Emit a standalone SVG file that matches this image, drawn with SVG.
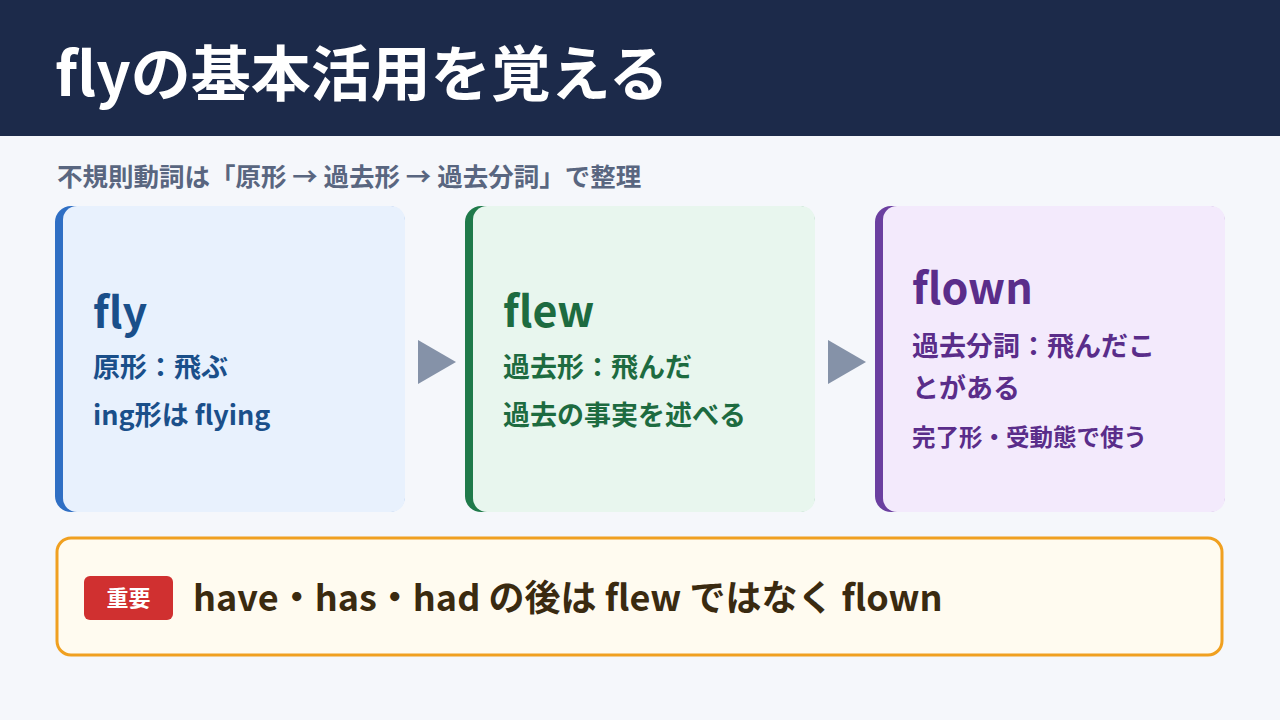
<svg xmlns="http://www.w3.org/2000/svg" width="1280" height="720" viewBox="0 0 1280 720">
<style>
text{font-family:"Noto Sans CJK JP","Noto Sans",sans-serif;font-weight:700}
.h{font-size:43px}.b{font-size:27px}
</style>
<rect width="1280" height="720" fill="#f5f7fb"/>
<rect width="1280" height="136" fill="#1c2a4a"/>
<text x="55" y="96" font-size="60" fill="#fff">flyの基本活用を覚える</text>
<text x="57" y="186" font-size="25.5" fill="#596680">不規則動詞は「原形 → 過去形 → 過去分詞」で整理</text>
<g id="card1">
<rect x="55" y="206" width="350" height="306" rx="16" fill="#2f6fc4"/>
<rect x="63" y="206" width="342" height="306" rx="14" fill="#e8f1fd"/>
<text x="93" y="328" class="h" fill="#1a4f8a">fly</text>
<text x="93" y="377" class="b" fill="#1a4f8a">原形：飛ぶ</text>
<text x="93" y="425" class="b" fill="#1a4f8a">ing形は flying</text>
</g>
<g id="card2">
<rect x="465" y="206" width="350" height="306" rx="16" fill="#1f7a4a"/>
<rect x="473" y="206" width="342" height="306" rx="14" fill="#e8f6ee"/>
<text x="503" y="327" class="h" fill="#1d6b40">flew</text>
<text x="503" y="377" class="b" fill="#1d6b40">過去形：飛んだ</text>
<text x="503" y="425" class="b" fill="#1d6b40">過去の事実を述べる</text>
</g>
<g id="card3">
<rect x="875" y="206" width="350" height="306" rx="16" fill="#6b3fa0"/>
<rect x="883" y="206" width="342" height="306" rx="14" fill="#f3eafc"/>
<text x="912" y="304" class="h" fill="#5a2d8a">flown</text>
<text x="912" y="356" class="b" fill="#5a2d8a">過去分詞：飛んだこ</text>
<text x="912" y="398" class="b" fill="#5a2d8a">とがある</text>
<text x="912" y="446" font-size="23.5" fill="#5a2d8a">完了形・受動態で使う</text>
</g>
<g id="connectors" fill="#8592a8">
<polygon points="418,340 456,362 418,384"/>
<polygon points="828,340 866,362 828,384"/>
</g>
<g id="note">
<rect x="57" y="538" width="1165" height="117" rx="14" fill="#fffbf0" stroke="#f0a020" stroke-width="3"/>
<rect x="84" y="576" width="89" height="44" rx="6" fill="#d03030"/>
<text x="128.5" y="606" font-size="22" fill="#fff" text-anchor="middle">重要</text>
<text x="193" y="611" font-size="36" fill="#3a2a10">have・has・had の後は flew ではなく flown</text>
</g>
</svg>
